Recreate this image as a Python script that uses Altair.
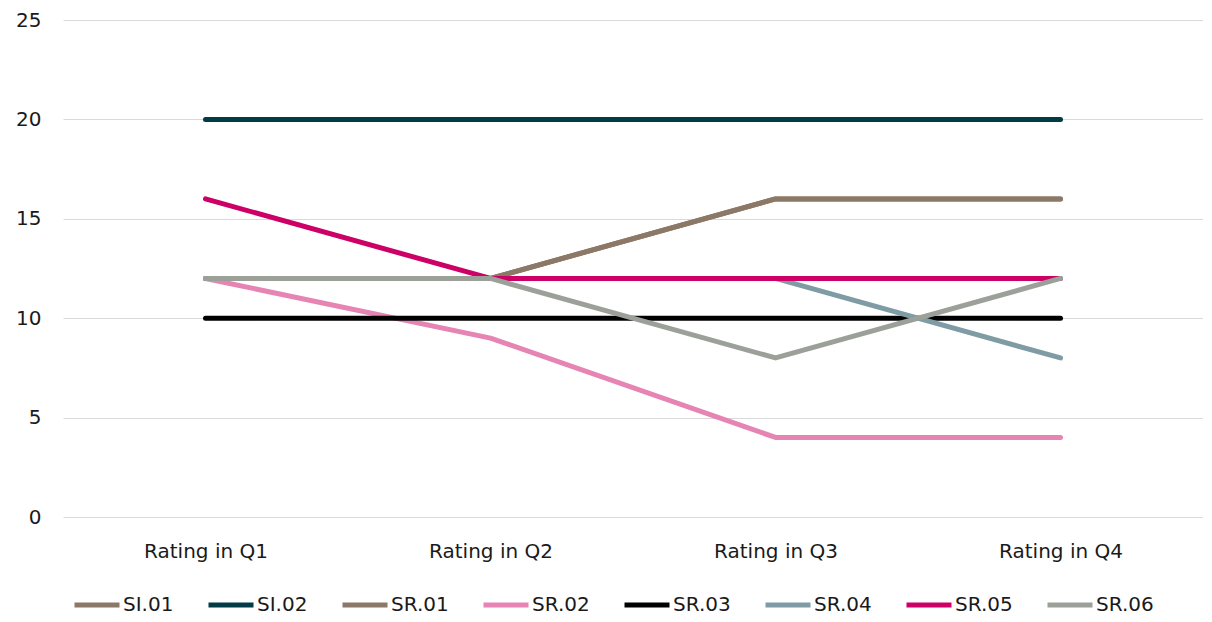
import altair as alt
import pandas as pd

quarters = ["Rating in Q1", "Rating in Q2", "Rating in Q3", "Rating in Q4"]
series = ["SI.01", "SI.02", "SR.01", "SR.02", "SR.03", "SR.04", "SR.05", "SR.06"]
values = {
    "SI.01": [12, 12, 16, 16],
    "SI.02": [20, 20, 20, 20],
    "SR.01": [12, 12, 16, 16],
    "SR.02": [12, 9, 4, 4],
    "SR.03": [10, 10, 10, 10],
    "SR.04": [12, 12, 12, 8],
    "SR.05": [16, 12, 12, 12],
    "SR.06": [12, 12, 8, 12],
}
colors = ["#8B7866", "#003B46", "#8B7866", "#E684B3", "#000000", "#7F9BA3", "#CC0066", "#9BA099"]
y_ticks = [0, 5, 10, 15, 20, 25]

rows = []
for i, s in enumerate(series):
    for j, q in enumerate(quarters):
        rows.append({"series": s, "quarter": q, "value": values[s][j], "order": i})
df = pd.DataFrame(rows)

FONT = "DejaVu Sans"
FS = 20

chart = alt.Chart(df).mark_line(strokeWidth=5, strokeCap="round", strokeJoin="round").encode(
    x=alt.X("quarter:N", sort=quarters, title=None,
            scale=alt.Scale(type="point", padding=0.5),
            axis=alt.Axis(labelAngle=0, domain=False, ticks=False, grid=False,
                          labelPadding=24, labelFontSize=FS, labelFont=FONT, labelColor="#1a1a1a")),
    y=alt.Y("value:Q", title=None, scale=alt.Scale(domain=[0, 25], nice=False),
            axis=alt.Axis(values=y_ticks, domain=False, ticks=False, grid=True,
                          gridColor="#d9d9d9", gridWidth=1.2, labelPadding=22,
                          labelFontSize=FS, labelFont=FONT, labelColor="#1a1a1a")),
    color=alt.Color("series:N", scale=alt.Scale(domain=series, range=colors),
                    legend=alt.Legend(orient="none", legendX=9, legendY=560, direction="horizontal",
                                      title=None, symbolType="stroke", symbolSize=2025,
                                      symbolStrokeWidth=5, labelFontSize=FS, labelFont=FONT,
                                      labelColor="#1a1a1a", labelOffset=1, columnPadding=24,
                                      columns=8)),
    detail="series:N",
    order=alt.Order("order:Q"),
).properties(
    width=1140, height=497,
    autosize=alt.AutoSizeParams(type="none"),
    padding={"left": 55, "top": 12, "right": 0, "bottom": 97},
).configure_view(stroke=None)

chart.save("out.html", embed_options={"renderer": "svg", "actions": False})
